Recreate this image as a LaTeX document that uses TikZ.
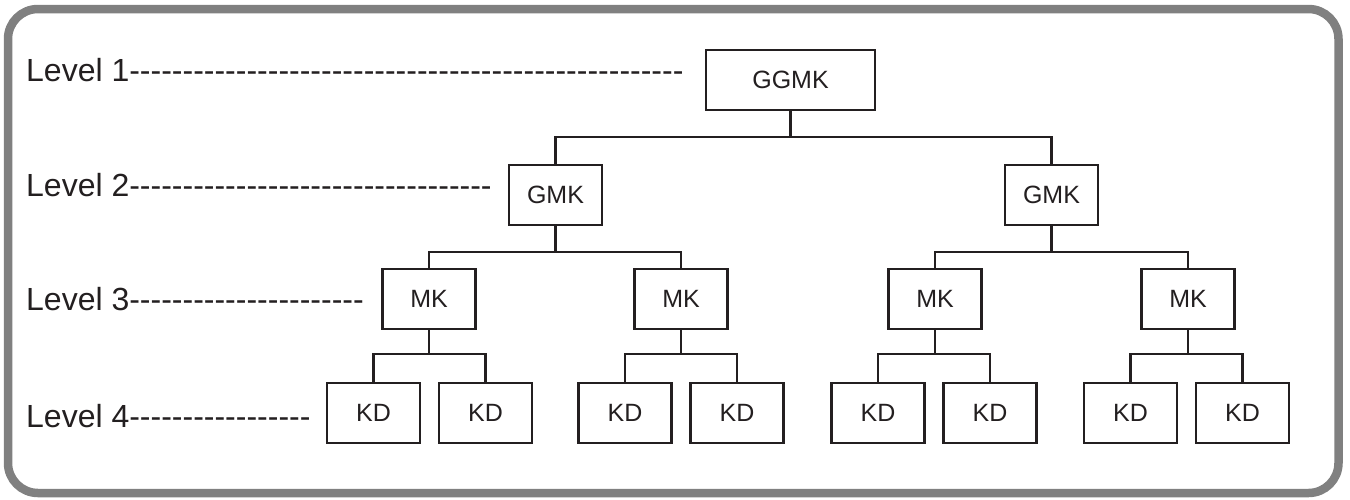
\documentclass[tikz,border=0pt]{standalone}
\usepackage{fontspec}
\setmainfont{Liberation Sans}[Ligatures=TeXOff]
\usepackage{xcolor}
\usepackage{tikz}
\usetikzlibrary{positioning,calc}

\definecolor{framegray}{HTML}{808080}
\definecolor{inkdark}{HTML}{231F20}

\newcommand{\hyphens}[1]{\foreach \k in {1,...,#1}{-}}

\tikzset{
  levelbox/.style={draw=inkdark, line width=2.2pt, inner sep=0pt,
    minimum width=93pt, minimum height=60pt, text=inkdark,
    font=\fontsize{25}{30}\selectfont},
  levellabel/.style={anchor=base west, inner sep=0pt, text=inkdark,
    font=\fontsize{32}{38}\selectfont},
  link/.style={draw=inkdark, line width=2.2pt}
}

\begin{document}
\begin{tikzpicture}[x=1pt, y=-1pt]
\useasboundingbox (0,0) rectangle (1350,499);

% Frame
\draw[framegray, line width=8.5pt, rounded corners=30pt] (8,9) rectangle (1338.5,493);

% Level labels
\node[levellabel] (lvl1) at (26,81)  {Level 1\hyphens{52}};
\node[levellabel] (lvl2) at (26,196) {Level 2\hyphens{34}};
\node[levellabel] (lvl3) at (26,310) {Level 3\hyphens{22}};
\node[levellabel] (lvl4) at (26,427) {Level 4\hyphens{17}};

% Level 1 and 2
\node[levelbox, minimum width=169pt] (ggmk) at (790.5,80) {GGMK};
\node[levelbox] (gmkA) at (555.5,195) {GMK};
\node[levelbox] (gmkB) at (1051.5,195) {GMK};

% Level 3
\node[levelbox] (mkA) at (429,299)  {MK};
\node[levelbox] (mkB) at (681,299)  {MK};
\node[levelbox] (mkC) at (935,299)  {MK};
\node[levelbox] (mkD) at (1188,299) {MK};

% Level 4
\foreach \name/\x in {kdA/373.5,kdB/485.5,kdC/625,kdD/737,kdE/878,kdF/990,kdG/1130.5,kdH/1242.5}
    \node[levelbox] (\name) at (\x,413) {KD};

% Connectors
\foreach \kid in {gmkA,gmkB}
    \draw[link] (ggmk.south) -- ++(0,26) -| (\kid.north);
\foreach \kid in {mkA,mkB}
    \draw[link] (gmkA.south) -- ++(0,26) -| (\kid.north);
\foreach \kid in {mkC,mkD}
    \draw[link] (gmkB.south) -- ++(0,26) -| (\kid.north);
\foreach \mk/\kidl/\kidr in {mkA/kdA/kdB,mkB/kdC/kdD,mkC/kdE/kdF,mkD/kdG/kdH}
    \draw[link] (\kidl.north) |- ($(\mk.south)+(0,24)$) -| (\kidr.north)
                ($(\mk.south)+(0,24)$) -- (\mk.south);
\end{tikzpicture}
\end{document}
